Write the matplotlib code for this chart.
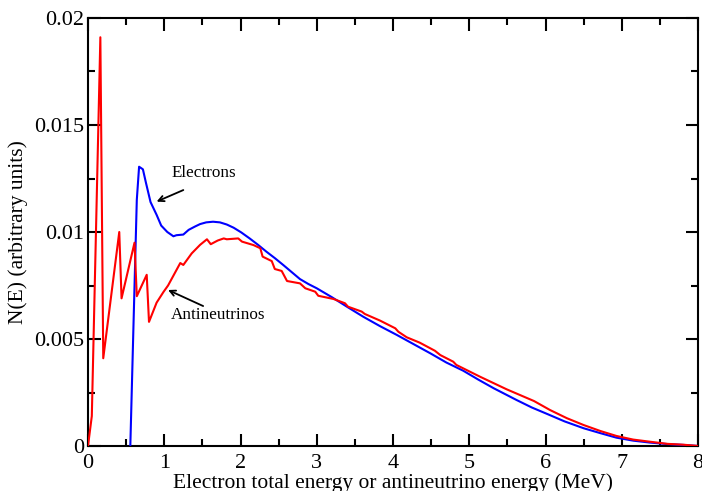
import matplotlib
matplotlib.use("Agg")
import matplotlib.pyplot as plt
from matplotlib.ticker import MultipleLocator

# Electron spectrum (total energy, MeV) and arbitrary-unit intensity
electron_e = [0.555, 0.594, 0.64, 0.67, 0.72, 0.76, 0.82, 0.90, 0.96, 1.04,
              1.12, 1.16, 1.25, 1.32, 1.40, 1.47, 1.55, 1.64, 1.73, 1.82,
              1.91, 2.01, 2.12, 2.23, 2.34, 2.45, 2.56, 2.67, 2.78, 2.89,
              3.00, 3.20, 3.40, 3.61, 3.83, 4.05, 4.27, 4.49, 4.70, 4.92,
              5.12, 5.32, 5.62, 5.82, 6.02, 6.25, 6.50, 6.72, 6.93, 7.15,
              7.37, 7.60, 7.81, 8.00]
electron_n = [0.0, 0.0053, 0.0115, 0.01305, 0.01293, 0.0123, 0.0114, 0.0108,
              0.0103, 0.0100, 0.0098, 0.00985, 0.00988, 0.0101, 0.01025,
              0.01037, 0.01045, 0.01048, 0.01045, 0.01035, 0.0102, 0.00998,
              0.0097, 0.0094, 0.00908, 0.00878, 0.00846, 0.00813, 0.0078,
              0.00757, 0.00737, 0.00695, 0.0065, 0.00604, 0.0056, 0.00519,
              0.00476, 0.00433, 0.0039, 0.00352, 0.0031, 0.0027, 0.00215,
              0.0018, 0.0015, 0.00115, 0.00083, 0.0006, 0.00039, 0.00025,
              0.00016, 0.00009, 0.00005, 0.0]

# Antineutrino spectrum
antinu_e = [0.0, 0.05, 0.162, 0.20, 0.41, 0.44, 0.61, 0.64, 0.77, 0.80,
            0.90, 0.99, 1.05, 1.21, 1.25, 1.36, 1.47, 1.56, 1.61, 1.70,
            1.78, 1.82, 1.97, 2.02, 2.17, 2.26, 2.29, 2.41, 2.45, 2.54,
            2.61, 2.78, 2.85, 2.98, 3.02, 3.22, 3.37, 3.41, 3.59, 3.63,
            3.83, 4.03, 4.07, 4.18, 4.35, 4.55, 4.62, 4.79, 4.83, 5.14,
            5.49, 5.85, 6.06, 6.28, 6.50, 6.72, 6.93, 7.15, 7.37, 7.60,
            7.81, 8.00]
antinu_n = [0.0, 0.0014, 0.0191, 0.0041, 0.0100, 0.0069, 0.0095, 0.0070,
            0.0080, 0.0058, 0.0067, 0.0072, 0.0075, 0.00855, 0.00846, 0.0090,
            0.0094, 0.00966, 0.00943, 0.0096, 0.0097, 0.00966, 0.0097,
            0.00955, 0.00939, 0.00924, 0.00885, 0.00864, 0.00827, 0.00818,
            0.00771, 0.0076, 0.00737, 0.00721, 0.00702, 0.00687, 0.00667,
            0.00651, 0.00628, 0.00617, 0.00586, 0.0055, 0.00534, 0.00508,
            0.00483, 0.00445, 0.00425, 0.00394, 0.00379, 0.00324, 0.00265,
            0.0021, 0.00168, 0.0013, 0.00098, 0.0007, 0.00047, 0.0003,
            0.0002, 0.0001, 0.00006, 0.0]

x_ticks = [0, 1, 2, 3, 4, 5, 6, 7, 8]
y_ticks = [0, 0.005, 0.01, 0.015, 0.02]
y_tick_labels = ["0", "0.005", "0.01", "0.015", "0.02"]

plt.rcParams["font.family"] = ["Liberation Serif", "DejaVu Serif"]

fig = plt.figure(figsize=(7.02, 4.91), dpi=100)
ax = fig.add_axes([88 / 702, 1 - 446 / 491, 610 / 702, 428 / 491])

ax.plot(electron_e, electron_n, color="#0000ff", lw=1.5, zorder=3)
ax.plot(antinu_e, antinu_n, color="#ff0000", lw=1.5, zorder=3)

ax.set_xlim(0, 8)
ax.set_ylim(0, 0.02)
ax.set_xticks(x_ticks)
ax.set_yticks(y_ticks)
ax.set_yticklabels(y_tick_labels)
ax.xaxis.set_minor_locator(MultipleLocator(0.5))
ax.yaxis.set_minor_locator(MultipleLocator(0.0025))

ax.tick_params(which="both", direction="in", top=True, right=True,
               width=1.5, labelsize=16, colors="black")
ax.tick_params(which="major", length=9)
ax.tick_params(axis="y", which="major", pad=3)
ax.tick_params(axis="x", which="major", pad=6)
ax.tick_params(which="minor", length=5)
for s in ax.spines.values():
    s.set_linewidth(1.5)

ax.set_ylabel("N(E) (arbitrary units)", fontsize=15.5, labelpad=4)
ax.set_xlabel("Electron total energy or antineutrino energy (MeV)",
              fontsize=15.5, labelpad=0)

arrow = dict(arrowstyle="->", color="black", lw=1.3, shrinkA=0, shrinkB=0)
ax.annotate("", xy=(0.90, 0.01142), xytext=(1.25, 0.01196), arrowprops=arrow)
ax.text(1.09, 0.01275, "Electrons", fontsize=12.3, va="center", ha="left")
ax.annotate("", xy=(1.05, 0.00729), xytext=(1.51, 0.00654), arrowprops=arrow)
ax.text(1.09, 0.00612, "Antineutrinos", fontsize=12.3, va="center", ha="left")

fig.savefig("out.png", dpi=100)
